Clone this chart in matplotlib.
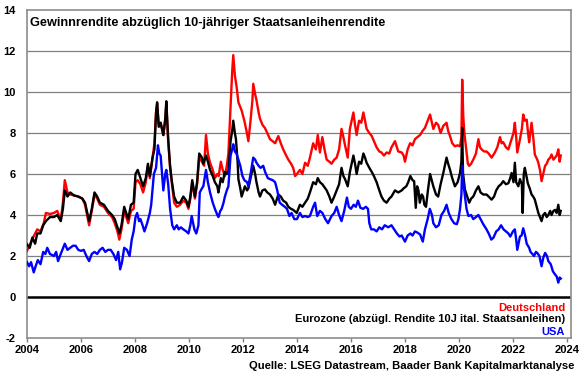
import matplotlib
matplotlib.use("Agg")
import matplotlib.pyplot as plt

# Gewinnrendite minus 10J-Staatsanleihenrendite

de_t = [2004.0, 2004.12, 2004.25, 2004.38, 2004.5, 2004.62, 2004.7, 2004.85, 2005.0, 2005.12,
        2005.25, 2005.33, 2005.4, 2005.5, 2005.6, 2005.75, 2005.9, 2006.05, 2006.15, 2006.3,
        2006.4, 2006.5, 2006.6, 2006.7, 2006.85, 2007.0, 2007.15, 2007.25, 2007.35, 2007.42,
        2007.5, 2007.6, 2007.7, 2007.75, 2007.85, 2007.95, 2008.02, 2008.1, 2008.2, 2008.3,
        2008.4, 2008.48, 2008.55, 2008.65, 2008.72, 2008.78, 2008.82, 2008.88, 2008.95, 2009.05,
        2009.12, 2009.16, 2009.23, 2009.3, 2009.36, 2009.45, 2009.55, 2009.67, 2009.79, 2009.9,
        2009.98, 2010.05, 2010.12, 2010.22, 2010.3, 2010.38, 2010.48, 2010.56, 2010.63, 2010.7,
        2010.78, 2010.88, 2010.96, 2011.05, 2011.1, 2011.18, 2011.25, 2011.33, 2011.4, 2011.46,
        2011.54, 2011.6, 2011.64, 2011.7, 2011.76, 2011.83, 2011.95, 2012.05, 2012.13, 2012.2,
        2012.28, 2012.35, 2012.38, 2012.45, 2012.5, 2012.58, 2012.63, 2012.72, 2012.81, 2012.9,
        2013.0, 2013.1, 2013.19, 2013.31, 2013.4, 2013.49, 2013.6, 2013.68, 2013.78, 2013.86,
        2013.93, 2014.0, 2014.11, 2014.2, 2014.3, 2014.4, 2014.48, 2014.6, 2014.7, 2014.77,
        2014.85, 2014.94, 2015.02, 2015.1, 2015.2, 2015.28, 2015.38, 2015.47, 2015.56, 2015.65,
        2015.72, 2015.78, 2015.88, 2015.96, 2016.09, 2016.15, 2016.21, 2016.3, 2016.38, 2016.46,
        2016.52, 2016.58, 2016.68, 2016.77, 2016.85, 2016.95, 2017.05, 2017.13, 2017.22, 2017.32,
        2017.42, 2017.5, 2017.63, 2017.7, 2017.75, 2017.88, 2017.95, 2018.0, 2018.1, 2018.19,
        2018.28, 2018.37, 2018.46, 2018.56, 2018.65, 2018.74, 2018.84, 2018.93, 2019.05, 2019.15,
        2019.23, 2019.32, 2019.42, 2019.54, 2019.6, 2019.67, 2019.75, 2019.85, 2019.95, 2020.04,
        2020.09, 2020.12, 2020.16, 2020.2, 2020.28, 2020.33, 2020.38, 2020.45, 2020.53, 2020.63,
        2020.72, 2020.78, 2020.84, 2020.93, 2021.02, 2021.1, 2021.21, 2021.33, 2021.42, 2021.52,
        2021.58, 2021.64, 2021.74, 2021.83, 2021.95, 2022.02, 2022.07, 2022.12, 2022.16, 2022.26,
        2022.33, 2022.38, 2022.44, 2022.51, 2022.56, 2022.6, 2022.69, 2022.75, 2022.81, 2022.9,
        2022.94, 2023.0, 2023.06, 2023.12, 2023.19, 2023.25, 2023.31, 2023.38, 2023.43, 2023.5,
        2023.56, 2023.62, 2023.68, 2023.73, 2023.77]
de_v = [2.25, 2.6, 2.97, 3.3, 3.2, 3.6, 4.1, 4.05, 4.1, 4.2,
        3.75, 4.6, 5.7, 5.1, 5.0, 4.95, 4.9, 4.8, 4.5, 3.5,
        4.2, 5.0, 4.8, 4.5, 4.4, 4.1, 3.9, 3.6, 3.2, 2.8,
        3.3, 4.2, 3.8, 3.6, 4.2, 4.3, 5.6, 5.7, 5.5, 5.1,
        5.6, 6.4, 5.8, 6.8, 7.5, 9.0, 9.4, 8.4, 8.5, 7.9,
        8.6, 9.4, 7.6, 6.3, 5.6, 4.6, 4.4, 4.5, 4.7, 4.6,
        4.3, 4.8, 5.6, 4.8, 5.5, 6.8, 6.6, 6.4, 7.9, 7.0,
        6.55, 6.2, 5.8, 6.0, 5.9, 6.6, 6.2, 5.9, 6.4, 7.0,
        9.3, 11.0, 11.8, 10.8, 10.3, 9.5, 9.1, 8.6, 8.1, 7.6,
        8.6, 9.6, 10.4, 9.9, 9.6, 9.0, 8.7, 8.4, 8.25, 8.0,
        7.7, 7.6, 7.5, 7.85, 7.5, 7.2, 6.9, 6.7, 6.5, 6.3,
        5.9, 6.0, 6.2, 6.0, 6.55, 6.4, 6.8, 7.5, 7.2, 7.9,
        7.05, 7.8, 7.2, 6.7, 6.6, 6.5, 6.7, 6.8, 7.2, 8.2,
        7.8, 7.4, 6.8, 8.2, 9.0, 8.4, 7.9, 8.6, 8.5, 9.0,
        8.6, 8.2, 8.0, 7.85, 7.6, 7.3, 7.1, 7.05, 6.9, 7.05,
        7.0, 7.3, 7.6, 7.3, 7.1, 7.05, 6.9, 6.6, 7.2, 7.5,
        7.4, 7.7, 7.8, 7.9, 8.1, 8.25, 8.6, 8.9, 8.2, 8.5,
        8.4, 8.0, 8.35, 8.5, 8.1, 7.85, 7.5, 7.35, 7.4, 7.35,
        7.8, 10.6, 8.8, 8.0, 7.05, 6.5, 6.4, 6.5, 6.7, 7.0,
        7.7, 7.3, 7.2, 7.1, 7.1, 7.0, 6.8, 7.05, 7.3, 7.8,
        7.5, 7.55, 7.3, 7.2, 7.7, 8.0, 8.5, 7.8, 7.05, 7.7,
        8.2, 8.9, 8.6, 8.65, 8.0, 7.55, 8.5, 7.8, 6.95, 6.7,
        6.55, 6.2, 5.65, 6.0, 6.4, 6.5, 6.7, 6.8, 6.95, 6.7,
        6.8, 6.9, 7.2, 6.6, 6.9]

ez_t = [2004.0, 2004.1, 2004.2, 2004.3, 2004.38, 2004.5, 2004.6, 2004.7, 2004.85, 2005.0,
        2005.12, 2005.25, 2005.33, 2005.4, 2005.5, 2005.6, 2005.75, 2005.9, 2006.05, 2006.15,
        2006.3, 2006.4, 2006.5, 2006.6, 2006.7, 2006.85, 2007.0, 2007.15, 2007.25, 2007.35,
        2007.42, 2007.5, 2007.6, 2007.7, 2007.75, 2007.85, 2007.95, 2008.02, 2008.1, 2008.2,
        2008.3, 2008.4, 2008.48, 2008.55, 2008.65, 2008.72, 2008.78, 2008.82, 2008.88, 2008.95,
        2009.05, 2009.12, 2009.16, 2009.23, 2009.3, 2009.36, 2009.45, 2009.55, 2009.67, 2009.79,
        2009.9, 2009.98, 2010.05, 2010.12, 2010.22, 2010.3, 2010.38, 2010.48, 2010.53, 2010.63,
        2010.7, 2010.78, 2010.88, 2010.96, 2011.05, 2011.09, 2011.18, 2011.25, 2011.33, 2011.4,
        2011.46, 2011.54, 2011.6, 2011.64, 2011.7, 2011.74, 2011.8, 2011.83, 2011.9, 2011.95,
        2012.07, 2012.15, 2012.2, 2012.28, 2012.38, 2012.45, 2012.5, 2012.58, 2012.63, 2012.72,
        2012.81, 2012.9, 2013.0, 2013.1, 2013.19, 2013.31, 2013.4, 2013.49, 2013.6, 2013.68,
        2013.78, 2013.86, 2013.99, 2014.11, 2014.2, 2014.3, 2014.4, 2014.48, 2014.6, 2014.7,
        2014.77, 2014.85, 2014.94, 2015.1, 2015.2, 2015.28, 2015.38, 2015.47, 2015.56, 2015.65,
        2015.72, 2015.78, 2015.88, 2015.96, 2016.09, 2016.15, 2016.21, 2016.3, 2016.38, 2016.46,
        2016.52, 2016.58, 2016.68, 2016.77, 2016.85, 2016.95, 2017.05, 2017.13, 2017.22, 2017.32,
        2017.42, 2017.5, 2017.63, 2017.75, 2017.88, 2017.95, 2018.05, 2018.12, 2018.2, 2018.28,
        2018.34, 2018.4, 2018.45, 2018.5, 2018.55, 2018.62, 2018.67, 2018.72, 2018.78, 2018.85,
        2018.93, 2019.05, 2019.15, 2019.23, 2019.32, 2019.42, 2019.54, 2019.6, 2019.67, 2019.75,
        2019.85, 2019.95, 2020.04, 2020.09, 2020.12, 2020.15, 2020.22, 2020.28, 2020.38, 2020.45,
        2020.53, 2020.63, 2020.72, 2020.8, 2020.9, 2021.02, 2021.1, 2021.21, 2021.3, 2021.38,
        2021.47, 2021.56, 2021.64, 2021.74, 2021.83, 2021.9, 2021.95, 2022.02, 2022.07, 2022.12,
        2022.2, 2022.26, 2022.33, 2022.36, 2022.4, 2022.44, 2022.5, 2022.55, 2022.62, 2022.69,
        2022.75, 2022.81, 2022.88, 2022.94, 2023.0, 2023.06, 2023.12, 2023.19, 2023.25, 2023.31,
        2023.38, 2023.43, 2023.5, 2023.56, 2023.62, 2023.68, 2023.73, 2023.77]
ez_v = [2.57, 2.4, 2.9, 2.6, 3.1, 3.1, 3.5, 3.7, 3.9, 3.9,
        4.0, 3.7, 4.3, 5.2, 4.9, 5.1, 4.95, 4.9, 4.8, 4.6,
        3.7, 4.3, 5.1, 4.9, 4.6, 4.5, 4.2, 4.0, 3.8, 3.4,
        3.1, 3.5, 4.4, 4.0, 3.8, 4.5, 4.6, 6.0, 6.2, 5.8,
        5.4, 5.8, 6.5, 5.9, 6.8, 7.2, 9.0, 9.5, 8.3, 8.5,
        7.9, 8.7, 9.55, 7.7, 6.4, 5.7, 4.9, 4.6, 4.6, 4.9,
        4.7, 4.4, 4.9, 5.7, 4.9, 5.6, 7.0, 6.8, 6.5, 6.9,
        6.6, 6.2, 5.9, 5.6, 5.4, 5.1, 5.8, 5.6, 6.1, 6.0,
        6.15, 7.6, 8.1, 8.6, 8.0, 7.7, 6.6, 5.75, 5.3, 4.9,
        5.4, 5.2, 5.3, 5.8, 6.4, 6.0, 5.6, 5.1, 4.9, 5.2,
        5.25, 5.1, 5.0, 4.8, 4.5, 5.0, 4.9, 4.7, 4.6, 4.4,
        4.3, 4.25, 4.1, 4.5, 4.4, 4.6, 4.8, 5.1, 5.6, 5.5,
        5.8, 5.6, 5.5, 5.2, 4.9, 4.6, 4.9, 5.2, 5.5, 6.3,
        5.9, 5.75, 5.4, 6.1, 6.9, 6.5, 6.0, 6.6, 6.5, 7.0,
        6.8, 6.55, 6.3, 6.1, 5.9, 5.6, 5.2, 4.9, 4.7, 4.6,
        4.8, 4.9, 5.2, 5.1, 5.2, 5.3, 5.4, 5.6, 5.9, 5.7,
        5.65, 4.35, 5.4, 5.2, 4.6, 5.0, 4.9, 4.5, 4.4, 5.2,
        6.0, 5.4, 5.0, 4.9, 5.5, 6.05, 6.8, 6.5, 6.2, 5.8,
        5.4, 5.6, 6.05, 6.6, 8.25, 6.05, 5.25, 5.0, 4.6, 4.8,
        4.9, 5.2, 5.4, 5.1, 5.0, 5.0, 4.9, 4.75, 4.9, 5.2,
        5.4, 5.5, 5.65, 5.5, 5.55, 5.8, 6.05, 5.6, 6.55, 5.6,
        5.4, 5.75, 5.5, 4.1, 6.0, 6.3, 5.9, 5.55, 5.3, 5.0,
        4.9, 4.75, 4.4, 4.1, 3.9, 3.7, 4.0, 4.1, 3.9, 4.0,
        4.2, 4.0, 4.2, 4.25, 4.1, 4.5, 4.0, 4.2]

us_t = [2004.0, 2004.08, 2004.15, 2004.25, 2004.32, 2004.4, 2004.5, 2004.6, 2004.68, 2004.75,
        2004.85, 2005.0, 2005.08, 2005.15, 2005.25, 2005.4, 2005.5, 2005.6, 2005.7, 2005.8,
        2005.9, 2006.0, 2006.1, 2006.2, 2006.3, 2006.4, 2006.5, 2006.6, 2006.7, 2006.8,
        2006.9, 2007.0, 2007.1, 2007.2, 2007.3, 2007.38, 2007.45, 2007.52, 2007.6, 2007.7,
        2007.8, 2007.88, 2007.95, 2008.02, 2008.08, 2008.15, 2008.2, 2008.28, 2008.35, 2008.45,
        2008.55, 2008.6, 2008.7, 2008.78, 2008.85, 2008.9, 2008.95, 2009.05, 2009.12, 2009.16,
        2009.23, 2009.3, 2009.38, 2009.45, 2009.55, 2009.62, 2009.7, 2009.79, 2009.9, 2009.98,
        2010.05, 2010.1, 2010.2, 2010.27, 2010.35, 2010.4, 2010.48, 2010.53, 2010.63, 2010.7,
        2010.78, 2010.88, 2010.96, 2011.05, 2011.09, 2011.16, 2011.21, 2011.28, 2011.33, 2011.4,
        2011.46, 2011.54, 2011.6, 2011.64, 2011.7, 2011.76, 2011.83, 2011.9, 2011.98, 2012.05,
        2012.15, 2012.2, 2012.28, 2012.38, 2012.45, 2012.5, 2012.58, 2012.65, 2012.75, 2012.82,
        2012.92, 2013.0, 2013.1, 2013.19, 2013.27, 2013.36, 2013.45, 2013.55, 2013.63, 2013.72,
        2013.8, 2013.9, 2014.0, 2014.11, 2014.2, 2014.3, 2014.4, 2014.48, 2014.6, 2014.67,
        2014.75, 2014.85, 2014.94, 2015.05, 2015.15, 2015.28, 2015.38, 2015.47, 2015.56, 2015.65,
        2015.75, 2015.85, 2015.92, 2016.0, 2016.1, 2016.18, 2016.26, 2016.35, 2016.45, 2016.55,
        2016.63, 2016.68, 2016.75, 2016.85, 2016.95, 2017.05, 2017.15, 2017.25, 2017.38, 2017.5,
        2017.6, 2017.7, 2017.8, 2017.88, 2018.0, 2018.1, 2018.2, 2018.28, 2018.37, 2018.45,
        2018.56, 2018.66, 2018.74, 2018.84, 2018.92, 2019.0, 2019.05, 2019.15, 2019.25, 2019.35,
        2019.45, 2019.54, 2019.62, 2019.72, 2019.82, 2019.92, 2019.98, 2020.04, 2020.09, 2020.12,
        2020.16, 2020.19, 2020.28, 2020.35, 2020.45, 2020.53, 2020.63, 2020.72, 2020.8, 2020.9,
        2021.02, 2021.1, 2021.2, 2021.28, 2021.38, 2021.47, 2021.56, 2021.65, 2021.74, 2021.83,
        2021.9, 2022.0, 2022.07, 2022.12, 2022.16, 2022.22, 2022.26, 2022.32, 2022.38, 2022.45,
        2022.51, 2022.6, 2022.65, 2022.72, 2022.78, 2022.85, 2022.9, 2022.98, 2023.06, 2023.12,
        2023.19, 2023.26, 2023.31, 2023.4, 2023.48, 2023.56, 2023.62, 2023.68, 2023.73, 2023.77]
us_v = [1.7, 1.5, 1.7, 1.2, 1.5, 1.8, 1.6, 2.2, 2.1, 2.4,
        2.1, 2.0, 2.2, 1.75, 2.1, 2.6, 2.3, 2.4, 2.5, 2.5,
        2.3, 2.25, 2.3, 2.0, 1.75, 2.1, 2.2, 2.1, 2.3, 2.4,
        2.2, 2.3, 2.3, 2.1, 1.8, 2.2, 1.35, 1.7, 2.4, 2.3,
        2.0, 2.8, 3.2, 3.9, 4.1, 3.7, 3.8, 3.5, 3.2, 3.6,
        4.1, 4.5, 6.0, 6.3, 7.4, 7.0, 6.9, 5.2, 6.0, 6.2,
        5.5, 4.3, 3.5, 3.3, 3.5, 3.3, 3.4, 3.3, 3.2, 3.1,
        3.5, 3.95, 3.3, 3.1, 3.5, 5.1, 5.3, 5.4, 6.2, 5.6,
        5.1, 4.6, 4.3, 4.0, 3.9, 4.2, 4.3, 4.6, 4.9, 5.2,
        5.4, 6.9, 7.2, 7.45, 7.1, 7.0, 6.7, 6.4, 5.9, 5.7,
        5.6, 5.4, 6.0, 6.8, 6.7, 6.55, 6.4, 6.3, 6.4, 6.1,
        5.8, 5.75, 5.7, 5.6, 5.2, 4.6, 4.5, 4.4, 4.3, 3.95,
        4.1, 3.8, 3.8, 4.1, 3.9, 3.95, 3.9, 3.95, 4.4, 4.6,
        3.95, 4.2, 4.1, 3.8, 3.6, 3.95, 4.1, 4.4, 4.0, 3.7,
        4.2, 4.85, 4.4, 4.3, 4.5, 4.4, 4.7, 4.35, 4.3, 4.4,
        4.3, 3.6, 3.3, 3.3, 3.2, 3.4, 3.3, 3.5, 3.4, 3.5,
        3.3, 3.1, 2.95, 3.0, 2.7, 3.0, 3.1, 3.0, 3.2, 3.15,
        3.05, 2.7, 3.3, 3.8, 4.3, 4.0, 3.6, 3.4, 3.5, 4.0,
        4.2, 4.5, 4.1, 3.8, 3.6, 3.55, 3.8, 4.3, 5.0, 6.4,
        5.6, 5.25, 4.3, 3.95, 4.0, 3.8, 3.9, 4.0, 3.8, 3.55,
        3.3, 3.1, 2.8, 2.9, 3.2, 3.3, 3.5, 3.3, 3.2, 3.1,
        2.95, 3.2, 3.3, 2.8, 2.3, 2.7, 2.95, 3.0, 3.35, 3.0,
        2.6, 2.4, 2.2, 2.1, 2.0, 2.2, 2.15, 2.0, 1.5, 1.9,
        2.15, 2.0, 1.75, 1.6, 1.25, 1.1, 1.0, 0.7, 0.95, 0.9]

year_ticks = list(range(2004, 2025, 2))
y_ticks = list(range(-2, 15, 2))

plt.rcParams['font.family'] = ['Liberation Sans', 'DejaVu Sans']
plt.rcParams['font.weight'] = 'bold'
plt.rcParams['axes.unicode_minus'] = False

fig = plt.figure(figsize=(5.8, 3.75), dpi=100)
ax = fig.add_axes([27 / 580, 1 - 338 / 375, 544 / 580, 328 / 375])

for y in y_ticks[1:-1]:
    if y == 0:
        ax.axhline(0, color='black', lw=1.8, zorder=2)
    else:
        ax.axhline(y, color='#7f7f7f', lw=0.9, zorder=1)

ax.plot(de_t, de_v, color='#ff0000', lw=1.7, zorder=3)
ax.plot(ez_t, ez_v, color='black', lw=1.7, zorder=4)
ax.plot(us_t, us_v, color='#0000ff', lw=1.7, zorder=5)

ax.set_xlim(2004, 2024.15)
ax.set_ylim(-2, 14)
ax.set_xticks(year_ticks)
ax.set_yticks(y_ticks)
ax.tick_params(axis='x', length=3, width=1, color='#7f7f7f', labelsize=8, pad=2)
ax.tick_params(axis='y', length=0, labelsize=8, pad=8)
for s in ax.spines.values():
    s.set_color('#8c8c8c')
    s.set_linewidth(1.2)

ax.text(0.006, 0.96, 'Gewinnrendite abzüglich 10-jähriger Staatsanleihenrendite',
        transform=ax.transAxes, fontsize=9.2, fontweight='bold', va='center')

ax.text(0.989, 0.092, 'Deutschland', transform=ax.transAxes, color='#ff0000',
        fontsize=8, fontweight='bold', ha='right', va='center')
ax.text(0.989, 0.057, 'Eurozone (abzügl. Rendite 10J ital. Staatsanleihen)', transform=ax.transAxes,
        color='black', fontsize=8, fontweight='bold', ha='right', va='center')
ax.text(0.989, 0.019, 'USA', transform=ax.transAxes, color='#0000ff',
        fontsize=8, fontweight='bold', ha='right', va='center')

fig.text(574 / 580, 1 - 366 / 375, 'Quelle: LSEG Datastream, Baader Bank Kapitalmarktanalyse',
         fontsize=8.1, fontweight='bold', ha='right', va='center')

fig.savefig('out.png', dpi=100)
